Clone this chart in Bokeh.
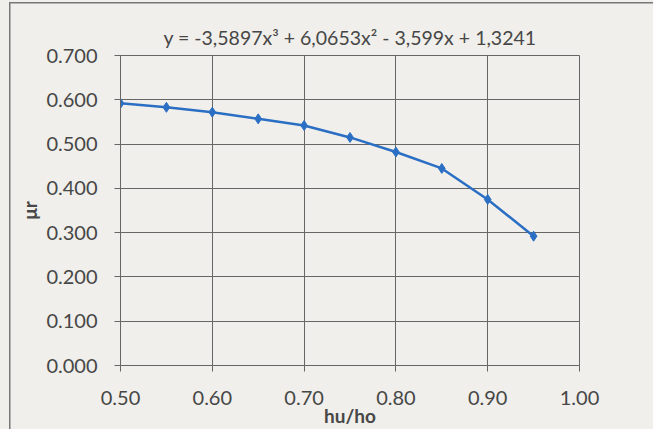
from bokeh.plotting import figure
from bokeh.models import Range1d, FixedTicker, NumeralTickFormatter
from bokeh.embed import file_html
from bokeh.resources import INLINE

# data
hu_ho = [0.50, 0.55, 0.60, 0.65, 0.70, 0.75, 0.80, 0.85, 0.90, 0.95]
mu_r = [0.592, 0.583, 0.572, 0.557, 0.542, 0.515, 0.482, 0.445, 0.375, 0.292]
x_ticks = [0.5, 0.6, 0.7, 0.8, 0.9, 1.0]
y_ticks = [0.0, 0.1, 0.2, 0.3, 0.4, 0.5, 0.6, 0.7]
equation = "y = -3,5897x³ + 6,0653x² - 3,599x + 1,3241"

BG = "#f0efeb"
GRID = "#666666"
TXT = "#474747"
BLUE = "#2b6fc4"
FONT = "Lato"

p = figure(width=653, height=429, output_backend="svg", toolbar_location=None,
           x_range=Range1d(0.5, 1.0), y_range=Range1d(0.0, 0.7),
           min_border_left=120, min_border_right=74, min_border_top=55, min_border_bottom=62,
           background_fill_color=BG, border_fill_color=BG, border_fill_alpha=0,
           title=equation)

# chart-area border (left and top edges visible in the photo)
p.styles = {
    "background": ("linear-gradient(#777777,#777777) 9px 2px / 1.5px 100% no-repeat, "
                   "linear-gradient(#777777,#777777) 9px 2px / 100% 1.5px no-repeat, " + BG),
}

p.title.align = "center"
p.title.text_font = FONT
p.title.text_font_style = "normal"
p.title.text_font_size = "19.5px"
p.title.text_color = TXT
p.title.standoff = 14

p.outline_line_color = GRID
p.outline_line_width = 1

for ax in (p.xaxis[0], p.yaxis[0]):
    ax.axis_line_color = GRID
    ax.major_tick_line_color = GRID
    ax.major_tick_in = 0
    ax.major_tick_out = 6
    ax.minor_tick_line_color = None
    ax.major_label_text_font = FONT
    ax.major_label_text_font_size = "20px"
    ax.major_label_text_color = TXT
    ax.axis_label_text_font = FONT
    ax.axis_label_text_font_size = "19px"
    ax.axis_label_text_font_style = "bold"
    ax.axis_label_text_color = TXT

p.xaxis.ticker = FixedTicker(ticks=x_ticks)
p.yaxis.ticker = FixedTicker(ticks=y_ticks)
p.xaxis.formatter = NumeralTickFormatter(format="0.00")
p.yaxis.formatter = NumeralTickFormatter(format="0.000")
p.xaxis.axis_label = "hu/ho"
p.yaxis.axis_label = "μr"
p.xaxis.major_label_standoff = 19
p.yaxis.major_label_standoff = 17
p.xaxis.axis_label_standoff = -4
p.yaxis.axis_label_standoff = 2

p.xgrid.ticker = FixedTicker(ticks=x_ticks)
p.ygrid.ticker = FixedTicker(ticks=y_ticks)
p.xgrid.grid_line_color = GRID
p.ygrid.grid_line_color = GRID
p.xgrid.grid_line_width = 1
p.ygrid.grid_line_width = 1

p.line(hu_ho, mu_r, line_color=BLUE, line_width=2.5)
p.scatter(hu_ho, mu_r, marker="diamond", size=10, fill_color=BLUE, line_color=BLUE)

open("out.html", "w").write(file_html(p, INLINE))
